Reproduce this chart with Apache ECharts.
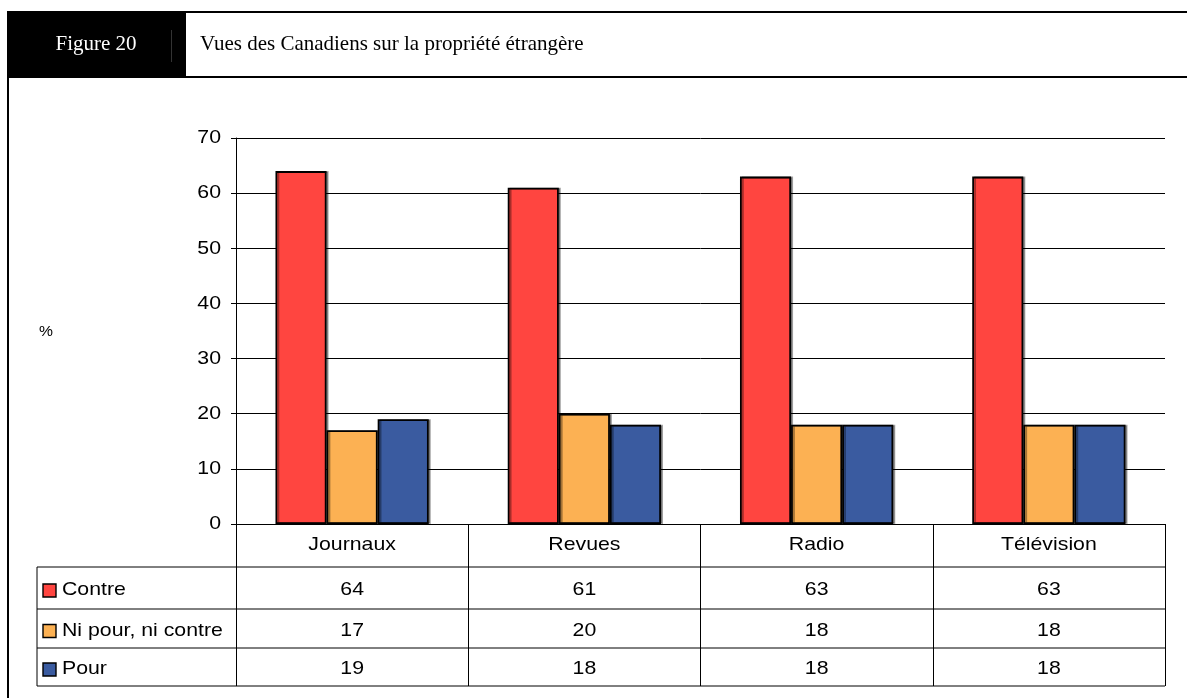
<!DOCTYPE html>
<html>
<head>
<meta charset="utf-8">
<script src="https://cdn.jsdelivr.net/npm/echarts@6/dist/echarts.min.js"></script>
<style>
  html, body { margin: 0; padding: 0; background: #fff; }
  #chart { width: 1187px; height: 698px; }
</style>
</head>
<body>
<div id="chart"></div>
<script>
// Vues des Canadiens sur la propriété étrangère (%)
const categories = ['Journaux', 'Revues', 'Radio', 'Télévision'];
const seriesNames = ['Contre', 'Ni pour, ni contre', 'Pour'];
const contre = [64, 61, 63, 63];
const niPourNiContre = [17, 20, 18, 18];
const pour = [19, 18, 18, 18];
const seriesColors = ['#FF4540', '#FCB153', '#3A5BA0'];
const yTicks = { min: 0, max: 70, interval: 10 };
const yTickLabels = ['0', '10', '20', '30', '40', '50', '60', '70'];
const figureLabel = 'Figure 20';
const figureTitle = 'Vues des Canadiens sur la propriété étrangère';
const unitLabel = '%';

const seriesValues = [contre, niPourNiContre, pour];

const chart = echarts.init(document.getElementById('chart'), null, { renderer: 'canvas' });

const GRID = { left: 236, right: 22, top: 138, bottom: 174 };
const tableLeft = 37;
const rowLines = [567, 609, 648, 686];
const SANS = 'Liberation Sans, Arial, sans-serif';
const SERIF = 'Liberation Serif, Times New Roman, serif';
const WIDE = 1.12; // slight horizontal stretch of the sans lettering

chart.setOption({
  animation: false,
  backgroundColor: '#fff',
  grid: GRID,
  xAxis: {
    type: 'category',
    data: categories,
    boundaryGap: true,
    axisLine: { lineStyle: { color: '#000', width: 1 } },
    axisTick: { show: true, length: rowLines[3] - (698 - GRID.bottom), lineStyle: { color: '#000', width: 1 } },
    axisLabel: { show: false },
    splitLine: { show: false }
  },
  yAxis: {
    type: 'value',
    min: yTicks.min,
    max: yTicks.max,
    interval: yTicks.interval,
    axisLine: { show: true, lineStyle: { color: '#000', width: 1 } },
    axisTick: { show: true, length: 5, lineStyle: { color: '#000' } },
    axisLabel: { show: false },
    splitLine: { show: true, lineStyle: { color: '#000', width: 1 } }
  },
  series: seriesNames.map((name, i) => ({
    name: name,
    type: 'bar',
    data: seriesValues[i],
    barGap: '0%',
    barCategoryGap: '34%',
    itemStyle: {
      color: seriesColors[i],
      borderColor: '#000',
      borderWidth: 1.8,
      shadowColor: 'rgba(0,0,0,0.35)',
      shadowOffsetX: 2,
      shadowOffsetY: 0,
      shadowBlur: 0
    }
  }))
});

// text element anchored at (x, y), optionally stretched horizontally
function txt(x, y, text, size, align, family, color, sx) {
  return {
    type: 'text', x: x, y: y, scaleX: sx === undefined ? WIDE : sx,
    style: { text: text, fill: color || '#000', font: size + 'px ' + (family || SANS), textAlign: align, textVerticalAlign: 'middle' }
  };
}

function line(x1, y1, x2, y2, w) {
  return { type: 'line', shape: { x1: x1, y1: y1, x2: x2, y2: y2 }, style: { stroke: '#000', lineWidth: w || 1 } };
}

function buildGraphics() {
  const g = [];
  const tableRight = 1187 - GRID.right;

  // outer frame
  g.push(line(8, 12, 1187, 12, 2));
  g.push(line(8, 77, 1187, 77, 2));
  g.push(line(8, 11, 8, 698, 2));

  // black label box and title
  g.push({ type: 'rect', shape: { x: 8, y: 11, width: 178, height: 66 }, style: { fill: '#000' } });
  g.push({ type: 'line', shape: { x1: 171.5, y1: 30, x2: 171.5, y2: 62 }, style: { stroke: '#333', lineWidth: 1 } });
  g.push(txt(96, 44, figureLabel, 21, 'center', SERIF, '#fff', 1));
  g.push(txt(200, 44, figureTitle, 21, 'left', SERIF, '#000', 1));

  // unit label
  g.push(txt(46, 332, unitLabel, 14, 'center'));

  // y tick labels
  yTickLabels.forEach(t => {
    const py = chart.convertToPixel({ yAxisIndex: 0 }, Number(t));
    g.push(txt(221, py, t, 19, 'right'));
  });

  // category header row
  categories.forEach(c => {
    const px = chart.convertToPixel({ xAxisIndex: 0 }, c);
    g.push(txt(px, 545, c, 19, 'center'));
  });

  // data table
  rowLines.forEach(y => g.push(line(tableLeft, y, tableRight, y, 1)));
  g.push(line(tableLeft, rowLines[0], tableLeft, rowLines[3], 1));

  seriesNames.forEach((name, r) => {
    const yc = (rowLines[r] + rowLines[r + 1]) / 2 + 2;
    g.push({ type: 'rect', shape: { x: 43, y: yc - 6, width: 13, height: 13 }, style: { fill: seriesColors[r], stroke: '#000', lineWidth: 1.4 } });
    g.push(txt(62, yc, name, 19, 'left'));
    categories.forEach((c, k) => {
      const px = chart.convertToPixel({ xAxisIndex: 0 }, c);
      g.push(txt(px, yc, String(seriesValues[r][k]), 19, 'center'));
    });
  });
  return g;
}

chart.setOption({ graphic: { elements: buildGraphics() } });
</script>
</body>
</html>
